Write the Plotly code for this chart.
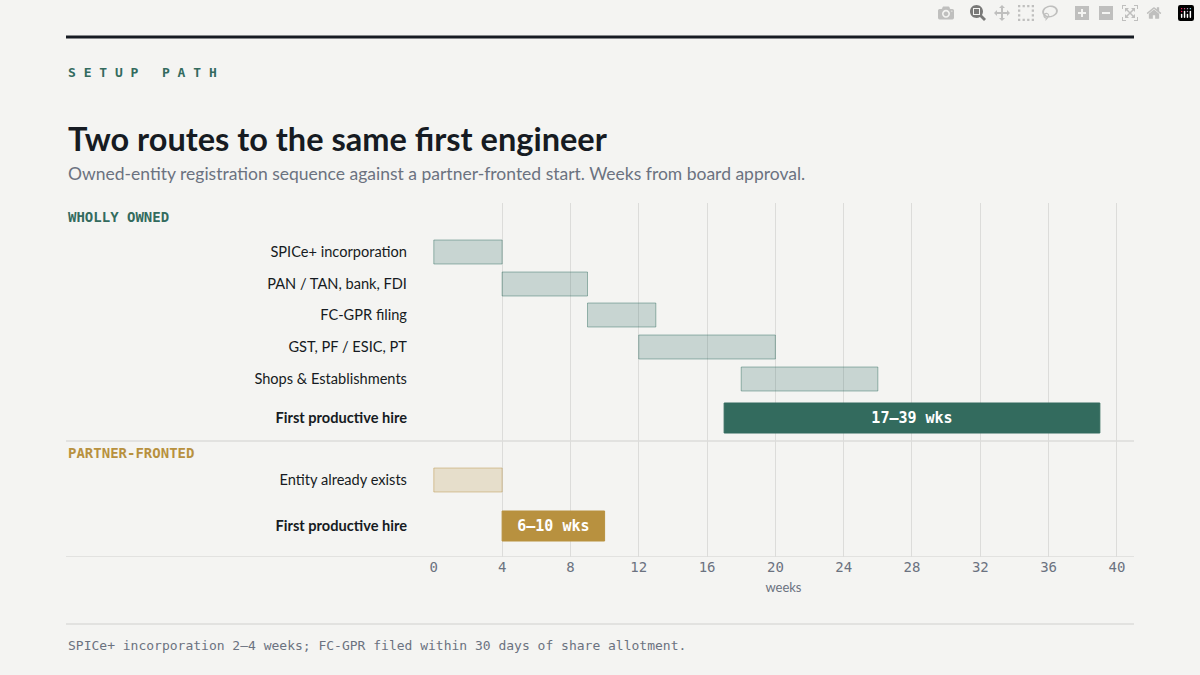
import plotly.graph_objects as go

# ---- data -------------------------------------------------------------
OWNED_TASKS = ["SPICe+ incorporation", "PAN / TAN, bank, FDI", "FC-GPR filing",
               "GST, PF / ESIC, PT", "Shops & Establishments"]
OWNED_START = [0, 4, 9, 12, 18]
OWNED_END = [4, 9, 13, 20, 26]
OWNED_HIRE = (17, 39)
OWNED_HIRE_LABEL = "17–39 wks"
PARTNER_TASKS = ["Entity already exists"]
PARTNER_START = [0]
PARTNER_END = [4]
PARTNER_HIRE = (4, 10)
PARTNER_HIRE_LABEL = "6–10 wks"
X_TICKS = [0, 4, 8, 12, 16, 20, 24, 28, 32, 36, 40]

# ---- style ------------------------------------------------------------
BG = "#f4f4f2"
INK = "#161b22"
GREEN = "#336b5e"
GOLD = "#b8913f"
MUTED = "#6b7280"
GRID = "#dcdcda"
SANS = "Lato, 'Open Sans', sans-serif"
MONO = "'DejaVu Sans Mono', monospace"

# row positions (px below plot top, plot height 354)
ROW_Y = [49, 81, 112, 144, 176]
HIRE_Y = 215
SEP_Y = 238
P_ROW_Y = [277]
P_HIRE_Y = 323
H = 354

fig = go.Figure()


def bar(x0, x1, y, fill, line, text="", width=24):
    fig.add_trace(go.Bar(
        x=[x1 - x0], base=[x0], y=[y], orientation="h", width=width,
        marker=dict(color=fill, line=dict(color=line, width=1)),
        text=[text], textposition="inside", insidetextanchor="middle",
        textfont=dict(family=MONO, size=15, color="white"),
        hoverinfo="skip", showlegend=False))


for s, e, y in zip(OWNED_START, OWNED_END, ROW_Y):
    bar(s, e, y, "rgba(46,107,94,0.22)", "rgba(46,107,94,0.45)")
bar(*OWNED_HIRE, HIRE_Y, GREEN, GREEN, f"<b>{OWNED_HIRE_LABEL}</b>", 30)
for s, e, y in zip(PARTNER_START, PARTNER_END, P_ROW_Y):
    bar(s, e, y, "rgba(184,145,63,0.22)", "rgba(184,145,63,0.45)")
bar(*PARTNER_HIRE, P_HIRE_Y, GOLD, GOLD, f"<b>{PARTNER_HIRE_LABEL}</b>", 30)

tickvals = ROW_Y + [HIRE_Y] + P_ROW_Y + [P_HIRE_Y]
ticktext = OWNED_TASKS + ["<b>First productive hire</b>"] + PARTNER_TASKS + \
    ["<b>First productive hire</b>"]

fig.update_layout(
    width=1200, height=675, paper_bgcolor=BG, plot_bgcolor=BG,
    margin=dict(l=66, r=66, t=203, b=118), barmode="overlay",
    font=dict(family=SANS, color=INK),
    xaxis=dict(domain=[0.3436, 1], range=[-0.05, 41], tickvals=X_TICKS,
               showgrid=True, gridcolor=GRID, zeroline=False, showline=False,
               tickfont=dict(family=MONO, size=14, color=MUTED),
               title=dict(text="weeks", font=dict(size=13, color=MUTED),
                          standoff=8)),
    yaxis=dict(range=[H, 0], tickvals=tickvals, ticktext=ticktext,
               showgrid=False, zeroline=False, ticks="",
               ticklabelstandoff=25,
               tickfont=dict(family=SANS, size=14.6, color=INK)),
    shapes=[
        dict(type="line", xref="paper", yref="paper", x0=0, x1=1,
             y0=1 + 166 / 354, y1=1 + 166 / 354, line=dict(color=INK, width=3)),
        dict(type="line", xref="paper", yref="y", x0=0, x1=1, y0=SEP_Y,
             y1=SEP_Y, line=dict(color=GRID, width=1.5)),
        dict(type="line", xref="paper", yref="y", x0=0, x1=1, y0=H,
             y1=H, line=dict(color=GRID, width=1.5)),
        dict(type="line", xref="paper", yref="paper", x0=0, x1=1,
             y0=-67 / 354, y1=-67 / 354, line=dict(color=GRID, width=1.5)),
    ],
)


def note(text, ypx, size, color, family=SANS):
    fig.add_annotation(text=text, xref="paper", yref="paper", x=0,
                       y=(557 - ypx) / 354, xanchor="left", yanchor="middle",
                       showarrow=False, font=dict(family=family, size=size,
                                                  color=color))


note("<b>S E T U P   P A T H</b>", 73, 13, GREEN, MONO)
note("<b>Two routes to the same first engineer</b>", 138, 32.5, INK)
note("Owned-entity registration sequence against a partner-fronted start. "
     "Weeks from board approval.", 174, 17.5, MUTED)
note("<b>WHOLLY OWNED</b>", 217, 14, GREEN, MONO)
note("<b>PARTNER-FRONTED</b>", 453, 14, GOLD, MONO)
note("SPICe+ incorporation 2–4 weeks; FC-GPR filed within 30 days of share "
     "allotment.", 645, 13, MUTED, MONO)

fig.write_html("out.html",
               post_script="document.body.style.margin='0';"
                           "document.body.style.background='#f4f4f2';")
